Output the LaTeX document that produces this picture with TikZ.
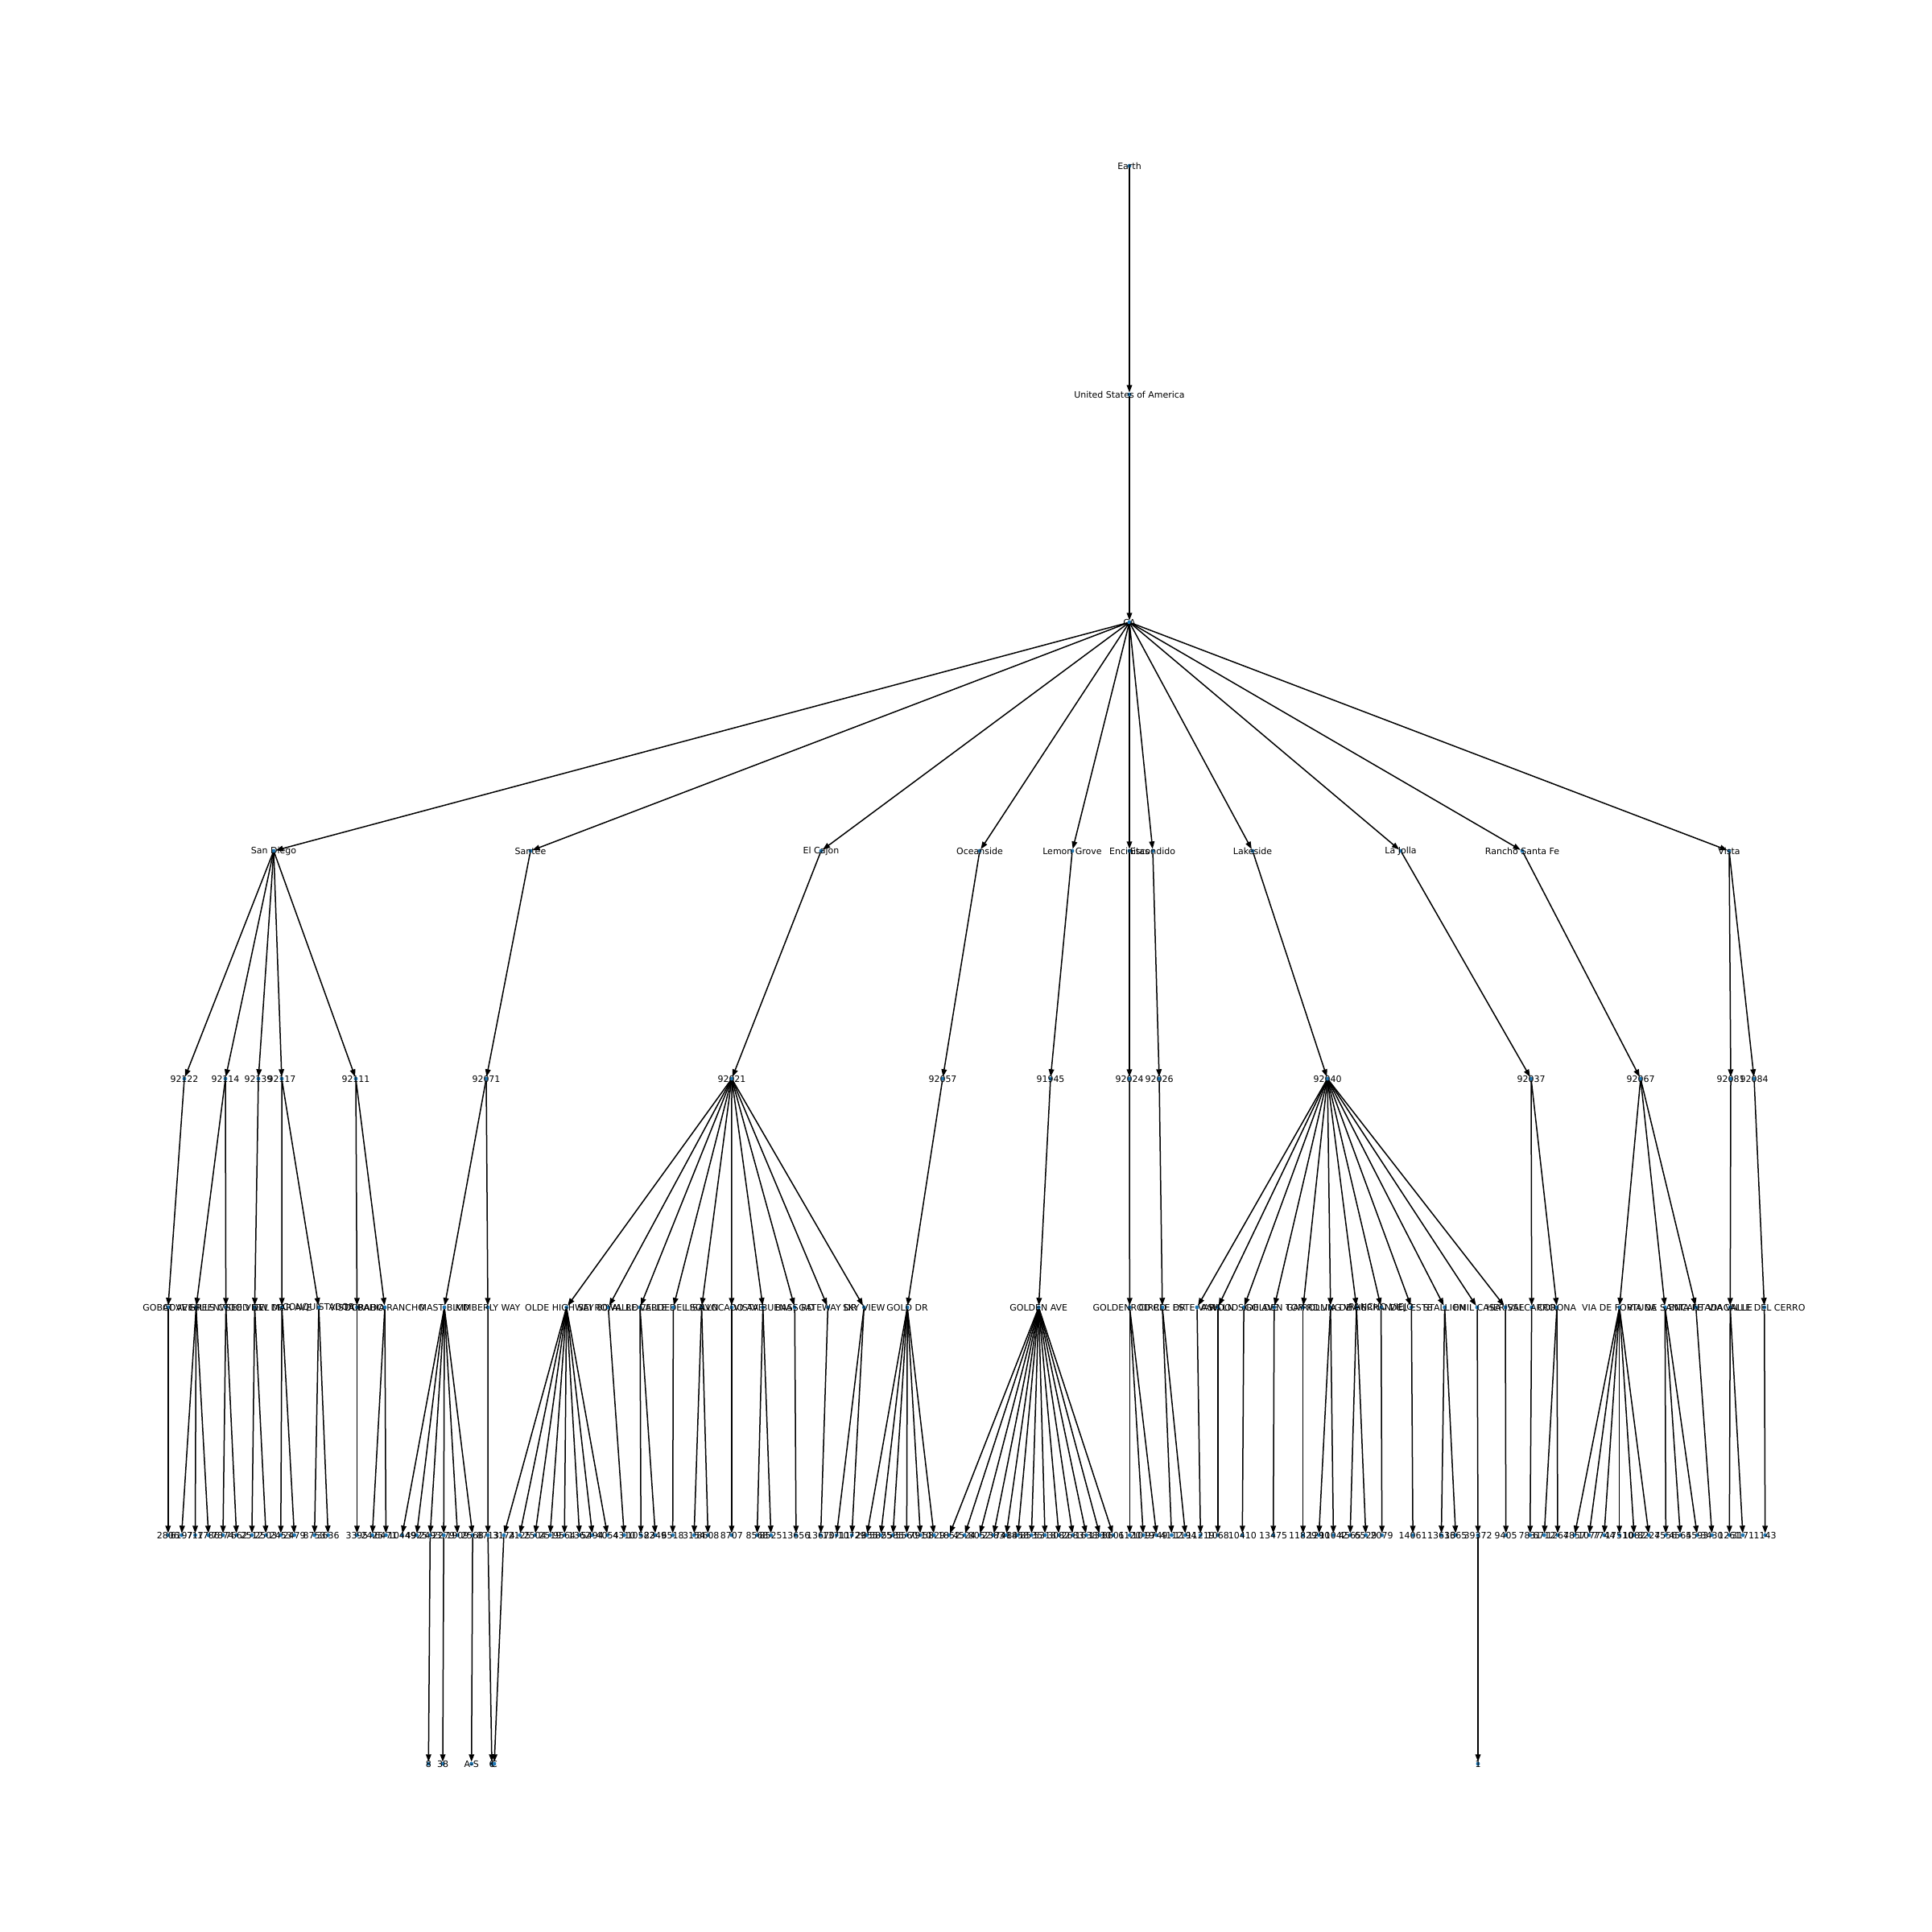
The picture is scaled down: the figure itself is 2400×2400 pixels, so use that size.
\documentclass[tikz,border=0pt]{standalone}
\usepackage{fontspec}
\setmainfont{DejaVu Sans}
\usetikzlibrary{arrows.meta}
\definecolor{mplblue}{HTML}{1F77B4}
\pgfdeclarelayer{paper}
\pgfdeclarelayer{edges}
\pgfsetlayers{paper,edges,main}
\newcommand\mknode[4]{\node[dot,label={[lab]center:#4}] (#1) at (#2,#3) {};}
\tikzset{
  dot/.style={circle,fill=mplblue,draw=none,inner sep=0pt,outer sep=0pt,minimum size=1.45pt},
  lab/.style={inner sep=0pt,outer sep=0pt,text=black,font=\fontsize{3.3}{4}\selectfont},
  arr/.style={draw=black,line width=0.45pt,-{Triangle[length=2.8pt,width=2pt]}}
}
\begin{document}
\begin{tikzpicture}[x=0.3pt,y=-0.3pt]
\begin{pgfonlayer}{paper}
\fill[white] (0,0) rectangle (2400,2400);
\end{pgfonlayer}
\useasboundingbox (0,0) rectangle (2400,2400);
% levels
\mknode{earth}{1403}{206}{Earth}
\mknode{usa}{1403}{490}{United States of America}
\mknode{ca}{1403}{773}{CA}
% cities
\mknode{sd}{340}{1057}{San Diego}
\mknode{santee}{659}{1057}{Santee}
\mknode{elcajon}{1020}{1057}{El Cajon}
\mknode{ocean}{1217}{1057}{Oceanside}
\mknode{lemon}{1332}{1057}{Lemon Grove}
\mknode{encin}{1403}{1057}{Encinitas}
\mknode{escon}{1432}{1057}{Escondido}
\mknode{lake}{1556}{1057}{Lakeside}
\mknode{lajolla}{1740}{1057}{La Jolla}
\mknode{rsf}{1891}{1057}{Rancho Santa Fe}
\mknode{vista}{2148}{1057}{Vista}
% zips
\mknode{za}{229}{1340}{92122}
\mknode{zb}{280}{1340}{92114}
\mknode{zc}{321}{1340}{92139}
\mknode{zd}{350}{1340}{92117}
\mknode{ze}{442}{1340}{92111}
\mknode{zf}{604}{1340}{92071}
\mknode{zg}{909}{1340}{92021}
\mknode{zh}{1171}{1340}{92057}
\mknode{zi}{1305}{1340}{91945}
\mknode{zj}{1403}{1340}{92024}
\mknode{zk}{1440}{1340}{92026}
\mknode{zl}{1649}{1340}{92040}
\mknode{zm}{1902}{1340}{92037}
\mknode{zn}{2038}{1340}{92067}
\mknode{zo}{2150}{1340}{92081}
\mknode{zp}{2179}{1340}{92084}
% streets
\mknode{s1}{208.8}{1624}{GOBAT AVE}
\mknode{s2}{243.6}{1624}{COVE HILLS CT}
\mknode{s3}{280.6}{1624}{GREENWOOD ST}
\mknode{s4}{316.4}{1624}{SEE VIEW DR}
\mknode{s5}{350.2}{1624}{DEL MAR AVE}
\mknode{s6}{396}{1624}{CONQUISTADOR}
\mknode{s7}{443.5}{1624}{VISTA BAHIA}
\mknode{s8}{478}{1624}{DORADO RANCHO}
\mknode{s9}{552}{1624}{MAST BLVD}
\mknode{s10}{606}{1624}{KIMBERLY WAY}
\mknode{s11}{703.7}{1624}{OLDE HIGHWAY 80}
\mknode{s12}{755.6}{1624}{SEI ROYAL RD}
\mknode{s13}{795}{1624}{VALLE VERDE}
\mknode{s14}{836.4}{1624}{CALLE DEL SOL}
\mknode{s15}{871.6}{1624}{LISA LN}
\mknode{s16}{908.9}{1624}{AVOCADO AVE}
\mknode{s17}{947.7}{1624}{VISTA BUENA}
\mknode{s18}{987.2}{1624}{BASS RD}
\mknode{s19}{1028.4}{1624}{GATEWAY DR}
\mknode{s20}{1073.3}{1624}{SKY VIEW}
\mknode{s21}{1127.1}{1624}{GOLD DR}
\mknode{s22}{1290.3}{1624}{GOLDEN AVE}
\mknode{s23}{1403.3}{1624}{GOLDENROD RD}
\mknode{s24}{1443.9}{1624}{CIRCLE DR}
\mknode{s25}{1487}{1624}{ESTE VARA}
\mknode{s26}{1512.8}{1624}{ASH LN}
\mknode{s27}{1545.1}{1624}{WOODSIDE AVE}
\mknode{s28}{1582.8}{1624}{GOLDEN TOP}
\mknode{s29}{1618.7}{1624}{GAY RD}
\mknode{s30}{1652.8}{1624}{ROLLING VIA}
\mknode{s31}{1685.1}{1624}{VIA DE HERRAN}
\mknode{s32}{1715.6}{1624}{RANCHO VIEJO}
\mknode{s33}{1753.3}{1624}{DEL ESTE}
\mknode{s34}{1794.6}{1624}{STALLION}
\mknode{s35}{1835}{1624}{EMIL CASA}
\mknode{s36}{1870}{1624}{HERISSE}
\mknode{s37}{1902.7}{1624}{VALCARRO}
\mknode{s38}{1934}{1624}{CORONA}
\mknode{s39}{2011.7}{1624}{VIA DE FORTUNA}
\mknode{s40}{2068.3}{1624}{VIA DE SANTA FE}
\mknode{s41}{2106.7}{1624}{ENCANTADA}
\mknode{s42}{2149.3}{1624}{VIA VALLE}
\mknode{s43}{2191.7}{1624}{CALLE DEL CERRO}
% house numbers
\mknode{l1}{208.8}{1907}{2806}
\mknode{l2}{225.6}{1907}{6197}
\mknode{l3}{242.5}{1907}{717}
\mknode{l4}{259}{1907}{1786}
\mknode{l5}{277}{1907}{7874}
\mknode{l6}{293.8}{1907}{7662}
\mknode{l7}{312.9}{1907}{2512}
\mknode{l8}{330.4}{1907}{2503}
\mknode{l9}{348.8}{1907}{2453}
\mknode{l10}{365.6}{1907}{2479}
\mknode{l11}{390.7}{1907}{8753}
\mknode{l12}{407.6}{1907}{3636}
\mknode{l13}{443.5}{1907}{3395}
\mknode{l14}{462.5}{1907}{2425}
\mknode{l15}{479.4}{1907}{6471}
\mknode{l16}{499.5}{1907}{10449}
\mknode{l17}{517.5}{1907}{4925}
\mknode{l18}{534.3}{1907}{2493}
\mknode{l19}{551.2}{1907}{2279}
\mknode{l20}{568.4}{1907}{1909}
\mknode{l21}{587.1}{1907}{2568}
\mknode{l22}{606.1}{1907}{8713}
\mknode{l23}{625.9}{1907}{3174}
\mknode{l24}{645.6}{1907}{2125}
\mknode{l25}{664.6}{1907}{2504}
\mknode{l26}{683.3}{1907}{2519}
\mknode{l27}{701.2}{1907}{9564}
\mknode{l28}{719.9}{1907}{1362}
\mknode{l29}{735.9}{1907}{5494}
\mknode{l30}{754.6}{1907}{4054}
\mknode{l31}{775.4}{1907}{4310}
\mknode{l32}{796.2}{1907}{10582}
\mknode{l33}{814.1}{1907}{2349}
\mknode{l34}{835.7}{1907}{6518}
\mknode{l35}{862.2}{1907}{3154}
\mknode{l36}{879.5}{1907}{8608}
\mknode{l37}{908.9}{1907}{8707}
\mknode{l38}{940.5}{1907}{8568}
\mknode{l39}{957.7}{1907}{8525}
\mknode{l40}{988.9}{1907}{13656}
\mknode{l41}{1019.5}{1907}{13670}
\mknode{l42}{1039.2}{1907}{13711}
\mknode{l43}{1058.2}{1907}{10729}
\mknode{l44}{1076.9}{1907}{2855}
\mknode{l45}{1094.1}{1907}{5825}
\mknode{l46}{1109.2}{1907}{5585}
\mknode{l47}{1126.4}{1907}{5560}
\mknode{l48}{1143.3}{1907}{7910}
\mknode{l49}{1160.2}{1907}{5829}
\mknode{l50}{1179.2}{1907}{1852}
\mknode{l51}{1198.2}{1907}{4524}
\mknode{l52}{1216.9}{1907}{8052}
\mknode{l53}{1234.1}{1907}{2383}
\mknode{l54}{1249.9}{1907}{7418}
\mknode{l55}{1264.4}{1907}{8458}
\mknode{l56}{1281.3}{1907}{8535}
\mknode{l57}{1298.1}{1907}{5318}
\mknode{l58}{1315.4}{1907}{3082}
\mknode{l59}{1332.6}{1907}{2683}
\mknode{l60}{1349.5}{1907}{1638}
\mknode{l61}{1366.3}{1907}{1330}
\mknode{l62}{1382.9}{1907}{8601}
\mknode{l63}{1403.3}{1907}{6120}
\mknode{l64}{1420.2}{1907}{1019}
\mknode{l65}{1436.7}{1907}{9749}
\mknode{l66}{1455.4}{1907}{4112}
\mknode{l67}{1472.6}{1907}{1194}
\mknode{l68}{1491.3}{1907}{11219}
\mknode{l69}{1512.8}{1907}{1068}
\mknode{l70}{1543.3}{1907}{10410}
\mknode{l71}{1581.7}{1907}{13475}
\mknode{l72}{1618.7}{1907}{11829}
\mknode{l73}{1638.4}{1907}{1290}
\mknode{l74}{1656.4}{1907}{11042}
\mknode{l75}{1677.2}{1907}{4565}
\mknode{l76}{1696.6}{1907}{6529}
\mknode{l77}{1716.7}{1907}{2079}
\mknode{l78}{1755.1}{1907}{14061}
\mknode{l79}{1790.5}{1907}{13636}
\mknode{l80}{1808.3}{1907}{1365}
\mknode{l81}{1836}{1907}{39372}
\mknode{l82}{1870.7}{1907}{9405}
\mknode{l83}{1900.7}{1907}{7831}
\mknode{l84}{1918.3}{1907}{6712}
\mknode{l85}{1935}{1907}{1264}
\mknode{l86}{1956}{1907}{7857}
\mknode{l87}{1974}{1907}{1077}
\mknode{l88}{1992.7}{1907}{7744}
\mknode{l89}{2011.7}{1907}{17510}
\mknode{l90}{2030}{1907}{1082}
\mknode{l91}{2048.3}{1907}{8224}
\mknode{l92}{2069.3}{1907}{7556}
\mknode{l93}{2087.3}{1907}{4564}
\mknode{l94}{2108.3}{1907}{5593}
\mknode{l95}{2126.7}{1907}{3430}
\mknode{l96}{2148.3}{1907}{1261}
\mknode{l97}{2165}{1907}{3171}
\mknode{l98}{2192.7}{1907}{1143}
% units
\mknode{b1}{532.3}{2191}{8}
\mknode{b2}{550}{2191}{38}
\mknode{b3}{585.7}{2191}{A-S}
\mknode{b4}{611}{2191}{6}
\mknode{b5}{614}{2191}{C}
\mknode{b6}{1836}{2191}{1}
\begin{pgfonlayer}{edges}
\foreach \a/\b in {earth/usa,usa/ca,
  ca/sd,ca/santee,ca/elcajon,ca/ocean,ca/lemon,ca/encin,ca/escon,ca/lake,ca/lajolla,ca/rsf,ca/vista,
  sd/za,sd/zb,sd/zc,sd/zd,sd/ze,santee/zf,elcajon/zg,ocean/zh,lemon/zi,encin/zj,escon/zk,lake/zl,lajolla/zm,rsf/zn,vista/zo,vista/zp,
  za/s1,zb/s2,zb/s3,zc/s4,zd/s5,zd/s6,ze/s7,ze/s8,zf/s9,zf/s10,
  zg/s11,zg/s12,zg/s13,zg/s14,zg/s15,zg/s16,zg/s17,zg/s18,zg/s19,zg/s20,
  zh/s21,zi/s22,zj/s23,zk/s24,
  zl/s25,zl/s26,zl/s27,zl/s28,zl/s29,zl/s30,zl/s31,zl/s32,zl/s33,zl/s34,zl/s35,zl/s36,
  zm/s37,zm/s38,zn/s39,zn/s40,zn/s41,zo/s42,zp/s43,
  s1/l1,s2/l2,s2/l3,s2/l4,s3/l5,s3/l6,s4/l7,s4/l8,s5/l9,s5/l10,s6/l11,s6/l12,s7/l13,s8/l14,s8/l15,
  s9/l16,s9/l17,s9/l18,s9/l19,s9/l20,s9/l21,s10/l22,
  s11/l23,s11/l24,s11/l25,s11/l26,s11/l27,s11/l28,s11/l29,s11/l30,
  s12/l31,s13/l32,s13/l33,s14/l34,s15/l35,s15/l36,s16/l37,s17/l38,s17/l39,s18/l40,s19/l41,s20/l42,s20/l43,
  s21/l44,s21/l45,s21/l46,s21/l47,s21/l48,s21/l49,
  s22/l50,s22/l51,s22/l52,s22/l53,s22/l54,s22/l55,s22/l56,s22/l57,s22/l58,s22/l59,s22/l60,s22/l61,s22/l62,
  s23/l63,s23/l64,s23/l65,s24/l66,s24/l67,
  s25/l68,s26/l69,s27/l70,s28/l71,s29/l72,s30/l73,s30/l74,s31/l75,s31/l76,s32/l77,s33/l78,s34/l79,s34/l80,s35/l81,s36/l82,
  s37/l83,s38/l84,s38/l85,
  s39/l86,s39/l87,s39/l88,s39/l89,s39/l90,s39/l91,s40/l92,s40/l93,s40/l94,s41/l95,s42/l96,s42/l97,s43/l98,
  l18/b1,l19/b2,l21/b3,l22/b4,l23/b5,l81/b6}
  \draw[arr] (\a) -- (\b);
\end{pgfonlayer}
\end{tikzpicture}
\end{document}
